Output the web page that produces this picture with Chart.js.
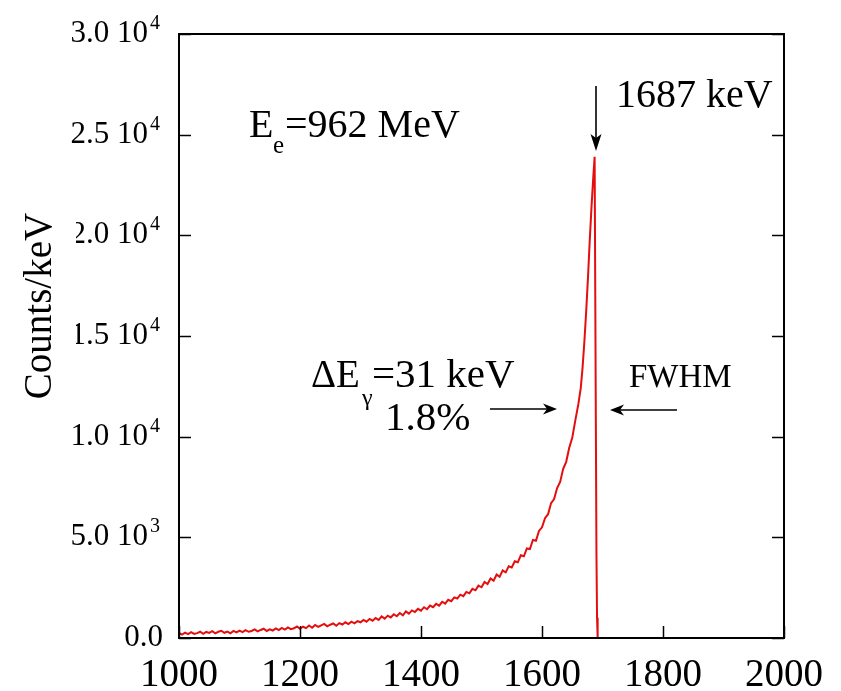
<!DOCTYPE html>
<html>
<head>
<meta charset="utf-8">
<script src="https://cdn.jsdelivr.net/npm/chart.js@4/dist/chart.umd.min.js"></script>
<style>
html,body{margin:0;padding:0;background:#fff;}
#wrap{width:841px;height:691px;position:relative;}
</style>
</head>
<body>
<div id="wrap"><canvas id="c" width="841" height="691"></canvas></div>
<script>
// ---- data ----
const energies = [
  1000,1005,1010,1015,1020,1025,1030,1035,1040,1045,1050,1055,1060,1065,1070,1075,1080,1085,1090,1095,
  1100,1105,1110,1115,1120,1125,1130,1135,1140,1145,1150,1155,1160,1165,1170,1175,1180,1185,1190,1195,
  1200,1205,1210,1215,1220,1225,1230,1235,1240,1245,1250,1255,1260,1265,1270,1275,1280,1285,1290,1295,
  1300,1305,1310,1315,1320,1325,1330,1335,1340,1345,1350,1355,1360,1365,1370,1375,1380,1385,1390,1395,
  1400,1405,1410,1415,1420,1425,1430,1435,1440,1445,1450,1455,1460,1465,1470,1475,1480,1485,1490,1495,
  1500,1505,1510,1515,1520,1525,1530,1535,1540,1545,1550,1555,1560,1565,1570,1575,1580,1585,1590,1595,
  1600,1605,1610,1615,1620,1625,1630,1635,1640,1645,1650,1655,1660,1664,1667,1670,1673,1676,1679,1682,
  1685,1687,1690,1691,1692,1750,1800,1900,2000
];
const counts = [
  250,170,270,190,290,200,240,310,210,300,250,340,230,310,360,260,320,230,350,280,
  370,290,390,310,350,430,330,400,460,350,430,370,480,390,500,420,530,440,480,570,
  460,560,490,620,510,650,550,630,700,580,660,720,610,740,670,780,690,810,730,840,
  780,900,810,950,860,990,900,1070,960,1110,1020,1180,1080,1240,1130,1320,1210,1370,1290,1450,
  1360,1530,1430,1610,1530,1700,1610,1800,1710,1900,1830,2020,1960,2150,2080,2290,2220,2440,2370,2600,
  2520,2780,2680,2960,2850,3150,3040,3360,3260,3560,3500,3810,3760,4110,4060,4450,4420,4870,4830,5320,
  5500,5950,6150,6700,6900,7450,7750,8400,8750,9450,9950,10800,11600,12400,13400,14700,16200,17900,19800,21500,
  23000,23900,4200,1000,0,0,0,0,0
];
const xTickValues = [1000,1200,1400,1600,1800,2000];
const xTickLabels = ['1000','1200','1400','1600','1800','2000'];
const yTickValues = [0,5000,10000,15000,20000,25000,30000];
const yTickMantissa = ['0.0','5.0 10','1.0 10','1.5 10','2.0 10','2.5 10','3.0 10'];
const yTickExponent = ['','3','4','4','4','4','4'];
const yTitle = 'Counts/keV';

const points = energies.map((e,i)=>({x:e, y:counts[i]}));
const SERIF = '"Liberation Serif", "Times New Roman", serif';

function line(ctx,x1,y1,x2,y2){ctx.beginPath();ctx.moveTo(x1,y1);ctx.lineTo(x2,y2);ctx.stroke();}
function txt(ctx,s,x,y,size,align,rot){
  ctx.save();
  ctx.translate(x,y);
  if(rot) ctx.rotate(rot);
  ctx.font = size + 'px ' + SERIF;
  ctx.textAlign = align || 'left';
  ctx.textBaseline = 'alphabetic';
  ctx.fillText(s,0,0);
  ctx.restore();
}
function arrowHead(ctx,tx,ty,dir){
  ctx.beginPath();
  if(dir==='down'){
    ctx.moveTo(tx,ty); ctx.lineTo(tx-5.5,ty-17); ctx.lineTo(tx,ty-13); ctx.lineTo(tx+5.5,ty-17);
  } else if(dir==='right'){
    ctx.moveTo(tx,ty); ctx.lineTo(tx-14,ty-5.5); ctx.lineTo(tx-10,ty); ctx.lineTo(tx-14,ty+5.5);
  } else {
    ctx.moveTo(tx,ty); ctx.lineTo(tx+14,ty-5.5); ctx.lineTo(tx+10,ty); ctx.lineTo(tx+14,ty+5.5);
  }
  ctx.closePath(); ctx.fill();
}

const decor = {
  id:'decor',
  afterDraw(chart){
    const ctx = chart.ctx, a = chart.chartArea, xs = chart.scales.x, ys = chart.scales.y;
    ctx.save();
    ctx.strokeStyle = '#000'; ctx.fillStyle = '#000';
    // frame
    ctx.lineWidth = 2;
    ctx.strokeRect(a.left, a.top, a.right-a.left, a.bottom-a.top);
    // inward ticks
    ctx.lineWidth = 1.5;
    yTickValues.forEach(v=>{
      const py = Math.round(ys.getPixelForValue(v))+0.5;
      line(ctx,a.left,py,a.left+12,py);
      line(ctx,a.right,py,a.right-12,py);
    });
    xTickValues.forEach(v=>{
      const px = Math.round(xs.getPixelForValue(v))+0.5;
      line(ctx,px,a.bottom,px,a.bottom-12);
    });
    // x tick labels
    xTickValues.forEach((v,i)=>{
      txt(ctx, xTickLabels[i], xs.getPixelForValue(v), 686, 39, 'center');
    });
    // y tick labels with superscript exponent
    yTickValues.forEach((v,i)=>{
      const py = ys.getPixelForValue(v);
      if(yTickExponent[i]){
        txt(ctx, yTickMantissa[i], 148, py+8, 31, 'right');
        txt(ctx, yTickExponent[i], 150, py-5, 20, 'left');
      } else {
        txt(ctx, yTickMantissa[i], 163, py+8, 31, 'right');
      }
    });
    // y axis title (its white box hides part of the labels, as in the original)
    ctx.fillStyle = '#fff';
    ctx.fillRect(20, 200, 56, 210);
    ctx.fillStyle = '#000';
    txt(ctx, yTitle, 51, 306, 39, 'center', -Math.PI/2);

    // annotations
    txt(ctx,'E',249,137,40);
    txt(ctx,'e',273,153,25);
    txt(ctx,'=962 MeV',285,137,40);
    txt(ctx,'1687 keV',616,107,40);
    txt(ctx,'\u0394E',311,387,39);
    txt(ctx,'\u03B3',362,405,24);
    txt(ctx,'=31 keV',372,387,41);
    txt(ctx,'1.8%',385,430,41);
    txt(ctx,'FWHM',629,387,33);

    // arrows
    ctx.lineWidth = 1.6;
    line(ctx,596,86,596,140); arrowHead(ctx,596,151,'down');
    line(ctx,490,409,548,409); arrowHead(ctx,557,409,'right');
    line(ctx,677,410,618,410); arrowHead(ctx,610,410,'left');
    ctx.restore();
  }
};

new Chart(document.getElementById('c'), {
  type:'line',
  data:{datasets:[{
    data: points,
    borderColor:'rgb(228,14,14)',
    borderWidth:2,
    pointRadius:0,
    tension:0,
    fill:false
  }]},
  options:{
    responsive:false,
    animation:false,
    devicePixelRatio:1,
    layout:{padding:{left:179,right:57,top:34,bottom:53}},
    plugins:{legend:{display:false},tooltip:{enabled:false}},
    scales:{
      x:{type:'linear',min:1000,max:2000,display:false,ticks:{stepSize:200}},
      y:{type:'linear',min:0,max:30000,display:false,ticks:{stepSize:5000}}
    }
  },
  plugins:[decor]
});
</script>
</body>
</html>
